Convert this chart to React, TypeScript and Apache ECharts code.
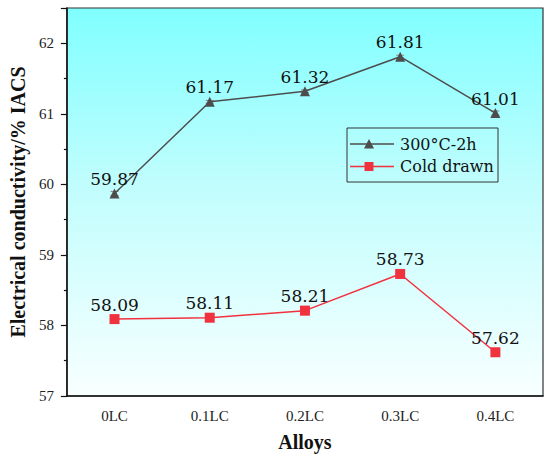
import React, { useEffect, useRef } from "react";
import * as echarts from "echarts";

const categories = ["0LC", "0.1LC", "0.2LC", "0.3LC", "0.4LC"];
const annealed = [59.87, 61.17, 61.32, 61.81, 61.01];
const annealedErr = [0.03, 0.02, 0.02, 0.02, 0.03];
const coldDrawn = [58.09, 58.11, 58.21, 58.73, 57.62];
const coldDrawnErr = [0.05, 0.03, 0.06, 0.05, 0.02];
const seriesNames = ["300°C-2h", "Cold drawn"];

const FONT = "Liberation Serif";
const FONT2 = "DejaVu Serif";
const GRAY = "#4d4d4d";
const RED = "#f0323f";

function errSeries(vals: number[], errs: number[], color: string) {
  return {
    type: "custom",
    xAxisIndex: 0,
    yAxisIndex: 0,
    silent: true,
    z: 1,
    data: vals.map((v, i) => [i, v - errs[i], v + errs[i]]),
    renderItem: (params: any, api: any) => {
      const lo = api.coord([api.value(0), api.value(1)]);
      const hi = api.coord([api.value(0), api.value(2)]);
      const w = 4;
      return {
        type: "group",
        children: [
          { type: "line", shape: { x1: lo[0], y1: lo[1], x2: hi[0], y2: hi[1] }, style: { stroke: color, lineWidth: 1 } },
          { type: "line", shape: { x1: lo[0] - w, y1: lo[1], x2: lo[0] + w, y2: lo[1] }, style: { stroke: color, lineWidth: 1 } },
          { type: "line", shape: { x1: hi[0] - w, y1: hi[1], x2: hi[0] + w, y2: hi[1] }, style: { stroke: color, lineWidth: 1 } },
        ],
      };
    },
  };
}

function labelSeries(vals: number[]) {
  return {
    type: "custom",
    xAxisIndex: 0,
    yAxisIndex: 0,
    silent: true,
    z: 5,
    data: vals.map((v, i) => [i, v]),
    renderItem: (params: any, api: any) => {
      const p = api.coord([api.value(0), api.value(1)]);
      return {
        type: "text",
        x: p[0],
        y: p[1] - 6,
        style: {
          text: Number(api.value(1)).toFixed(2),
          fontFamily: FONT2,
          fontSize: 17,
          fill: "#111",
          align: "center",
          verticalAlign: "bottom",
        },
      };
    },
  };
}

export default function App() {
  const ref = useRef<HTMLDivElement>(null);
  useEffect(() => {
    document.body.style.margin = "0";
    if (!ref.current) return;
    const chart = echarts.init(ref.current, null, { renderer: "svg" });
    const legendRow = (y: number, name: string, color: string, isTri: boolean) => {
      const sym = isTri
        ? { type: "polygon", shape: { points: [[22, y - 5], [17, y + 4.5], [27, y + 4.5]] }, style: { fill: color } }
        : { type: "rect", shape: { x: 17.5, y: y - 4.5, width: 9, height: 9 }, style: { fill: color } };
      return [
        { type: "line", shape: { x1: 3, y1: y, x2: 47, y2: y }, style: { stroke: color, lineWidth: 1.5 } },
        sym,
        {
          type: "text",
          x: 53,
          y,
          style: { text: name, fontFamily: FONT2, fontSize: 16, fill: "#111", verticalAlign: "middle" },
        },
      ];
    };
    chart.setOption({
      animation: false,
      backgroundColor: "#ffffff",
      textStyle: { fontFamily: FONT },
      grid: {
        left: 60,
        right: 7,
        top: 8,
        bottom: 60,
        show: true,
        borderColor: "#333",
        borderWidth: 1.2,
        backgroundColor: new echarts.graphic.LinearGradient(0, 0, 0, 1, [
          { offset: 0, color: "#80ffff" },
          { offset: 0.45, color: "#c0fdfd" },
          { offset: 1, color: "#f8ffff" },
        ]),
      },
      graphic: [
        {
          type: "group",
          x: 347,
          y: 128,
          z: 10,
          children: [
            { type: "rect", shape: { x: 0, y: 0, width: 151, height: 54 }, style: { fill: "none", stroke: "#333", lineWidth: 1 } },
            ...legendRow(16, seriesNames[0], GRAY, true),
            ...legendRow(38.5, seriesNames[1], RED, false),
          ],
        },
      ],
      xAxis: [
        {
          type: "category",
          data: categories,
          boundaryGap: true,
          name: "Alloys",
          nameLocation: "middle",
          nameGap: 36,
          nameTextStyle: { fontFamily: FONT, fontSize: 20, fontWeight: "bold", color: "#111" },
          axisLine: { lineStyle: { color: "#111", width: 1.5 } },
          axisTick: { alignWithLabel: true, length: 6, lineStyle: { color: "#111", width: 1.2 } },
          axisLabel: { fontFamily: FONT, fontSize: 15, color: "#222", margin: 12 },
        },
        {
          type: "category",
          data: categories,
          boundaryGap: true,
          position: "bottom",
          axisLine: { show: false },
          axisTick: { length: 3, lineStyle: { color: "#111", width: 1.2 } },
          axisLabel: { show: false },
        },
      ],
      yAxis: {
        type: "value",
        min: 57,
        max: 62.5,
        interval: 1,
        name: "Electrical conductivity/% IACS",
        nameLocation: "middle",
        nameGap: 37,
        nameTextStyle: { fontFamily: FONT, fontSize: 20, fontWeight: "bold", color: "#111" },
        axisLine: { show: true, lineStyle: { color: "#111", width: 1.5 } },
        axisTick: { show: true, length: 6, lineStyle: { color: "#111", width: 1.2 } },
        minorTick: { show: true, splitNumber: 2, length: 3, lineStyle: { color: "#111", width: 1.2 } },
        splitLine: { show: false },
        axisLabel: {
          fontFamily: FONT,
          fontSize: 15,
          color: "#222",
          margin: 13,
          formatter: (v: number) => (Number.isInteger(v) ? String(v) : ""),
        },
      },
      series: [
        errSeries(annealed, annealedErr, "#8a8a8a"),
        errSeries(coldDrawn, coldDrawnErr, "#f7a0a8"),
        {
          name: seriesNames[0],
          type: "line",
          data: annealed,
          symbol: "triangle",
          symbolSize: 10,
          itemStyle: { color: GRAY },
          lineStyle: { color: GRAY, width: 1.5 },
          z: 3,
        },
        {
          name: seriesNames[1],
          type: "line",
          data: coldDrawn,
          symbol: "rect",
          symbolSize: 10,
          itemStyle: { color: RED },
          lineStyle: { color: RED, width: 1.5 },
          z: 3,
        },
        labelSeries(annealed),
        labelSeries(coldDrawn),
      ],
    });
    return () => chart.dispose();
  }, []);
  return <div ref={ref} style={{ width: 550, height: 457 }} />;
}
